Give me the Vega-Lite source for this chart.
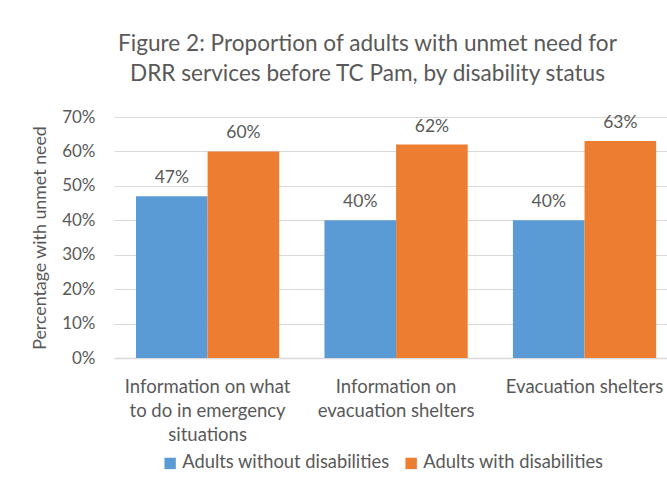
{
  "$schema": "https://vega.github.io/schema/vega-lite/v6.json",
  "autosize": "none",
  "width": 553,
  "height": 241,
  "padding": {"left": 114, "top": 117, "right": 0, "bottom": 125},
  "background": "white",
  "title": {
    "text": ["Figure 2: Proportion of adults with unmet need for", "DRR services before TC Pam, by disability status"],
    "font": "Lato",
    "fontSize": 22.6,
    "fontWeight": "normal",
    "color": "#595959",
    "lineHeight": 30,
    "anchor": "middle",
    "dx": -23,
    "offset": 22
  },
  "data": {
    "values": [
      {"cat": "Information on what|to do in emergency|situations", "group": "Adults without disabilities", "value": 0.47},
      {"cat": "Information on what|to do in emergency|situations", "group": "Adults with disabilities", "value": 0.60},
      {"cat": "Information on|evacuation shelters", "group": "Adults without disabilities", "value": 0.40},
      {"cat": "Information on|evacuation shelters", "group": "Adults with disabilities", "value": 0.62},
      {"cat": "Evacuation shelters", "group": "Adults without disabilities", "value": 0.40},
      {"cat": "Evacuation shelters", "group": "Adults with disabilities", "value": 0.63}
    ]
  },
  "encoding": {
    "x": {
      "field": "cat",
      "type": "nominal",
      "sort": null,
      "scale": {"paddingInner": 0.24, "paddingOuter": 0.087, "align": 0.67},
      "axis": {
        "title": null,
        "labelAngle": 0,
        "labelExpr": "split(datum.label, '|')",
        "labelFont": "Lato",
        "labelFontSize": 18.5,
        "labelColor": "#595959",
        "labelLineHeight": 24,
        "labelPadding": 19,
        "labelLimit": 300,
        "ticks": false,
        "domainColor": "#D9D9D9",
        "domainWidth": 1.5,
        "grid": false
      }
    },
    "xOffset": {"field": "group", "type": "nominal", "sort": ["Adults without disabilities", "Adults with disabilities"]},
    "y": {
      "field": "value",
      "type": "quantitative",
      "scale": {"domain": [0, 0.7], "nice": false},
      "axis": {
        "title": "Percentage with unmet need",
        "titleFont": "Lato",
        "titleFontSize": 17.8,
        "titleFontWeight": "normal",
        "titleColor": "#595959",
        "titlePadding": 12,
        "format": ".0%",
        "values": [0, 0.1, 0.2, 0.3, 0.4, 0.5, 0.6, 0.7],
        "labelFont": "Lato",
        "labelFontSize": 17,
        "labelColor": "#595959",
        "labelPadding": 19,
        "ticks": false,
        "domain": false,
        "gridColor": "#D9D9D9",
        "gridWidth": 1.2
      }
    }
  },
  "layer": [
    {
      "mark": {"type": "bar"},
      "encoding": {
        "color": {
          "field": "group",
          "type": "nominal",
          "sort": ["Adults without disabilities", "Adults with disabilities"],
          "scale": {"domain": ["Adults without disabilities", "Adults with disabilities"], "range": ["#5B9BD5", "#ED7D31"]},
          "legend": {
            "title": null,
            "orient": "none",
            "direction": "horizontal",
            "legendX": 47,
            "legendY": 337,
            "symbolType": "square",
            "symbolSize": 130,
            "symbolStrokeWidth": 0,
            "labelFont": "Lato",
            "labelFontSize": 18.3,
            "labelColor": "#595959",
            "labelOffset": 3,
            "columnPadding": 12,
            "labelLimit": 300
          }
        }
      }
    },
    {
      "mark": {"type": "text", "baseline": "bottom", "dy": -9, "font": "Lato", "fontSize": 17.5, "color": "#595959"},
      "encoding": {
        "text": {"field": "value", "type": "quantitative", "format": ".0%"}
      }
    }
  ],
  "config": {"view": {"stroke": null}}
}
